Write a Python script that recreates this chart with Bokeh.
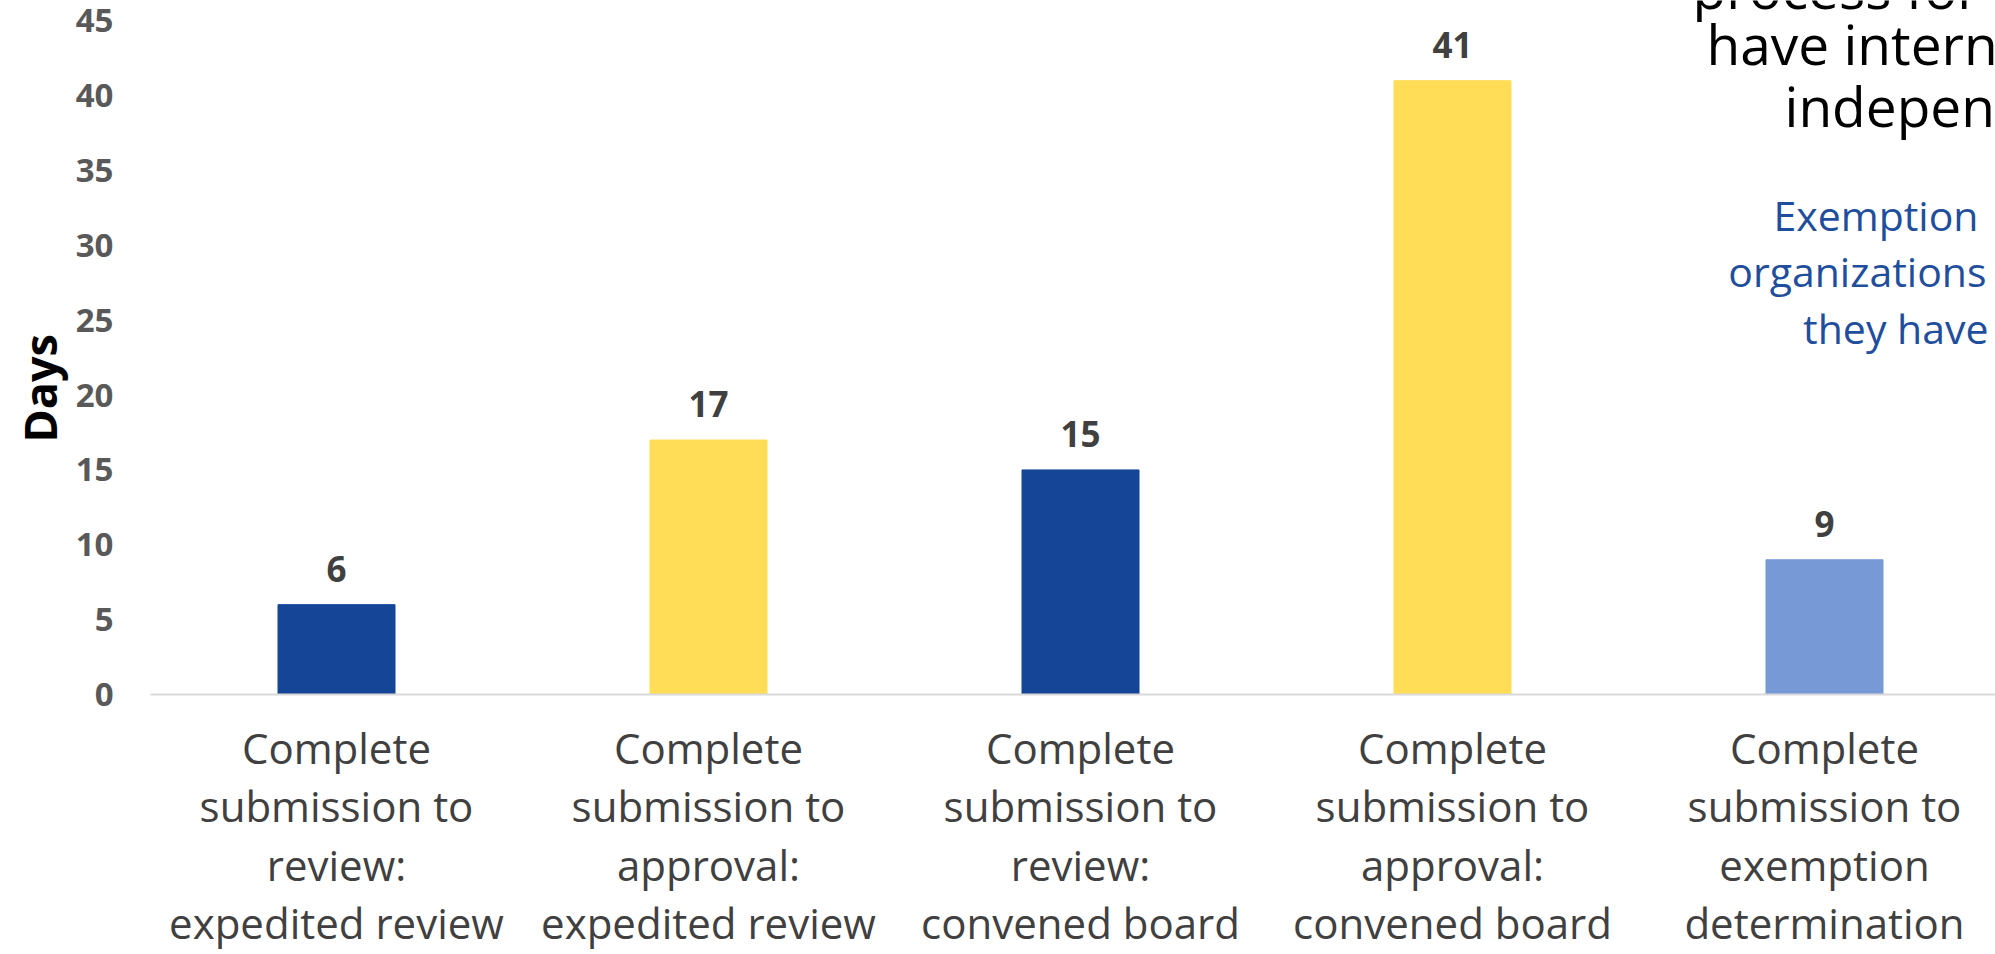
import math
from bokeh.plotting import figure
from bokeh.models import Range1d, FixedTicker, Label, ColumnDataSource, Title
from bokeh.core.properties import value
from bokeh.embed import file_html
from bokeh.resources import INLINE

# ---------------- data ----------------
categories = [
    "Complete\nsubmission to\nreview:\nexpedited review",
    "Complete\nsubmission to\napproval:\nexpedited review",
    "Complete\nsubmission to\nreview:\nconvened board",
    "Complete\nsubmission to\napproval:\nconvened board",
    "Complete\nsubmission to\nexemption\ndetermination",
]
days = [6, 17, 15, 41, 9]
bar_colors = ["#144596", "#FFDD57", "#144596", "#FFDD57", "#7799D5"]
y_ticks = [0, 5, 10, 15, 20, 25, 30, 35, 40, 45]
y_title = "Days"
title_lines = ["process for", "have intern", "indepen"]
note_lines = ["Exemption", "organizations", "they have"]

# ---------------- layout ----------------
W, H = 1995, 954
LEFT, BOTTOM = 150, 260
FRAME_W = W - LEFT
FRAME_H = H - BOTTOM
PX_X = 372.0      # pixels per category
PX_Y = 14.97      # pixels per day

x_start = -0.5
x_end = x_start + FRAME_W / PX_X
y_end = FRAME_H / PX_Y

def dx(px):
    return (px - LEFT) / PX_X + x_start

def dy(py):
    return (FRAME_H - py) / PX_Y

p = figure(width=W, height=H, output_backend="svg", toolbar_location=None,
           x_range=Range1d(x_start, x_end), y_range=Range1d(0, y_end),
           min_border_left=LEFT, min_border_bottom=BOTTOM,
           min_border_top=0, min_border_right=0)
p.outline_line_color = None
p.background_fill_color = "white"
p.border_fill_color = "white"
p.xgrid.visible = False
p.ygrid.visible = False

xs = list(range(len(categories)))
src = ColumnDataSource(dict(x=xs, days=days, color=bar_colors,
                            label=[str(d) for d in days]))

p.vbar(x="x", top="days", width=117 / PX_X, color="color", source=src)

p.text(x="x", y="days", text="label", source=src,
       text_align="center", text_baseline="alphabetic", y_offset=-36,
       text_font=value("Open Sans"), text_font_style="bold",
       text_font_size="35px", text_color="#404040")

# x axis
xa = p.xaxis[0]
xa.ticker = FixedTicker(ticks=xs)
xa.major_label_overrides = {i: c for i, c in zip(xs, categories)}
xa.major_label_text_font = "Open Sans"
xa.major_label_text_font_size = "42px"
xa.major_label_text_color = "#404040"
xa.major_label_text_line_height = 1.027
xa.major_label_standoff = 24
xa.major_tick_out = 0
xa.major_tick_in = 0
xa.axis_label_standoff = 0
xa.major_tick_line_color = None
xa.minor_tick_line_color = None
xa.axis_line_color = "#D9D9D9"
xa.axis_line_width = 2

# y axis
ya = p.yaxis[0]
ya.ticker = FixedTicker(ticks=y_ticks)
ya.major_label_text_font = "Open Sans"
ya.major_label_text_font_style = "bold"
ya.major_label_text_font_size = "33px"
ya.major_label_text_color = "#595959"
ya.major_label_standoff = 37
ya.major_tick_out = 0
ya.major_tick_in = 0
ya.major_tick_line_color = None
ya.minor_tick_line_color = None
ya.axis_line_color = None

# y-axis title, placed lower than the frame centre as in the reference
p.add_layout(Title(text=y_title, align="left", offset=252,
                   vertical_align="bottom", standoff=6,
                   text_font="Open Sans", text_font_style="bold",
                   text_font_size="45px", text_color="#000000"), "left")

# title fragments (cropped at the right edge)
for txt, px, py in zip(title_lines, [1692, 1706, 1784], [6 - 19, 62 - 19, 124 - 19]):
    p.add_layout(Label(x=dx(px), y=dy(py), text=txt,
                       text_align="left", text_baseline="alphabetic",
                       text_font="Open Sans", text_font_size="55px",
                       text_color="#000000"))

# blue note (right aligned)
for txt, px, py in zip(note_lines, [1978, 1986, 1988], [230 - 16, 286 - 16, 343 - 16]):
    p.add_layout(Label(x=dx(px), y=dy(py), text=txt,
                       text_align="right", text_baseline="alphabetic",
                       text_font="Open Sans", text_font_size="41px",
                       text_color="#1F4E9C"))

open("out.html", "w").write(file_html(p, INLINE))
